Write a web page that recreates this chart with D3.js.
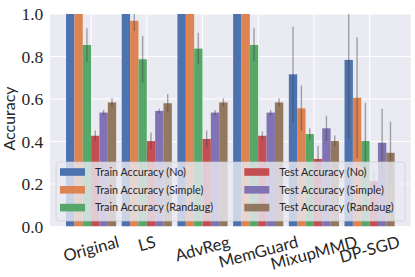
<!DOCTYPE html>
<html lang="en">
<head>
<meta charset="utf-8">
<title>Accuracy bars</title>
<script src="https://d3js.org/d3.v7.min.js"></script>
<style>
  body { margin: 0; background: #fff; }
  svg { display: block; }
</style>
</head>
<body>
<div class="chart"></div>
<script>
// categories and series
var categories = ["Original", "LS", "AdvReg", "MemGuard", "MixupMMD", "DP-SGD"];
var seriesNames = ["Train Accuracy (No)", "Train Accuracy (Simple)", "Train Accuracy (Randaug)",
                   "Test Accuracy (No)", "Test Accuracy (Simple)", "Test Accuracy (Randaug)"];
var colors = ["#4c72b0", "#dd8452", "#55a868", "#c44e52", "#8172b3", "#937860"];

// mean values
var trainNo      = [1.0, 1.0, 1.0, 1.0, 0.716, 0.784];
var trainSimple  = [1.0, 0.968, 1.0, 1.0, 0.556, 0.606];
var trainRandaug = [0.854, 0.787, 0.837, 0.854, 0.435, 0.402];
var testNo       = [0.427, 0.402, 0.412, 0.427, 0.318, 0.214];
var testSimple   = [0.536, 0.544, 0.536, 0.536, 0.462, 0.394];
var testRandaug  = [0.584, 0.580, 0.584, 0.584, 0.402, 0.347];

// error bar half widths
var trainNoErr      = [0, 0, 0, 0, 0.224, 0.37];
var trainSimpleErr  = [0, 0.048, 0, 0, 0.107, 0.285];
var trainRandaugErr = [0.079, 0.11, 0.075, 0.079, 0.026, 0.18];
var testNoErr       = [0.025, 0.04, 0.04, 0.02, 0.061, 0.05];
var testSimpleErr   = [0.012, 0.01, 0.012, 0.012, 0.059, 0.16];
var testRandaugErr  = [0.02, 0.043, 0.02, 0.02, 0.026, 0.146];

var yTicks = [0, 0.2, 0.4, 0.6, 0.8, 1.0];

var allValues = [trainNo, trainSimple, trainRandaug, testNo, testSimple, testRandaug];
var allErrors = [trainNoErr, trainSimpleErr, trainRandaugErr, testNoErr, testSimpleErr, testRandaugErr];

var bars = [];
categories.forEach((c, i) => {
  seriesNames.forEach((s, j) => {
    bars.push({cat: c, series: s, value: allValues[j][i], err: allErrors[j][i]});
  });
});

const width = 415, height = 277;
const margin = {top: 14, right: 4.3, bottom: 50.5, left: 50};
const x0 = margin.left, x1 = width - margin.right;
const y0 = height - margin.bottom, y1 = margin.top;
const sans = 'Lato, "DejaVu Sans", sans-serif';

const xScale = d3.scaleBand()
  .domain(categories)
  .range([x0, x1])
  .paddingInner(0.1)
  .paddingOuter(0.288);
const xSub = d3.scaleBand()
  .domain(seriesNames)
  .range([0, xScale.bandwidth()]);
const yScale = d3.scaleLinear()
  .domain([0, 1])
  .range([y0, y1]);
const colorScale = d3.scaleOrdinal().domain(seriesNames).range(colors);

var svg = d3.select('.chart')
  .append('svg')
  .attr('width', width)
  .attr('height', height);

svg.append('defs').append('clipPath')
  .attr('id', 'plotclip')
  .append('rect')
  .attr('x', x0).attr('y', y1)
  .attr('width', x1 - x0).attr('height', y0 - y1);

// background and grid
svg.append('rect')
  .attr('x', x0).attr('y', y1)
  .attr('width', x1 - x0).attr('height', y0 - y1)
  .attr('fill', '#eaeaf2');

svg.append('g').selectAll('line')
  .data(yTicks)
  .join('line')
  .attr('x1', x0).attr('x2', x1)
  .attr('y1', d => yScale(d)).attr('y2', d => yScale(d))
  .attr('stroke', '#fff').attr('stroke-width', 1.1);

svg.append('g').selectAll('line')
  .data(categories)
  .join('line')
  .attr('x1', d => xScale(d) + xScale.bandwidth() / 2)
  .attr('x2', d => xScale(d) + xScale.bandwidth() / 2)
  .attr('y1', y1).attr('y2', y0)
  .attr('stroke', '#fff').attr('stroke-width', 1.1);

// bars
var plot = svg.append('g').attr('clip-path', 'url(#plotclip)');
plot.selectAll('rect.bar')
  .data(bars)
  .join('rect')
  .attr('class', 'bar')
  .attr('x', d => xScale(d.cat) + xSub(d.series))
  .attr('width', xSub.bandwidth())
  .attr('y', d => yScale(d.value))
  .attr('height', d => yScale(0) - yScale(d.value))
  .attr('fill', d => colorScale(d.series));

// error bars
plot.selectAll('line.err')
  .data(bars.filter(d => d.err > 0))
  .join('line')
  .attr('class', 'err')
  .attr('x1', d => xScale(d.cat) + xSub(d.series) + xSub.bandwidth() / 2)
  .attr('x2', d => xScale(d.cat) + xSub(d.series) + xSub.bandwidth() / 2)
  .attr('y1', d => yScale(Math.max(0, d.value - d.err)))
  .attr('y2', d => yScale(d.value + d.err))
  .attr('stroke', '#424242')
  .attr('stroke-opacity', 0.45)
  .attr('stroke-width', 1.4);

// y axis
const yAxis = d3.axisLeft(yScale)
  .tickValues(yTicks)
  .tickSize(0)
  .tickPadding(6.7)
  .tickFormat(d3.format('.1f'));
var yAxisDisplay = svg.append('g')
  .attr('transform', `translate(${x0},0)`)
  .call(yAxis);
yAxisDisplay.select('.domain').remove();
yAxisDisplay.selectAll('text')
  .attr('font-family', '"Liberation Serif", serif')
  .attr('font-size', 17.5)
  .attr('fill', '#262626');

svg.append('text')
  .attr('transform', 'translate(15,118.5) rotate(-90)')
  .attr('text-anchor', 'middle')
  .attr('font-family', sans)
  .attr('font-size', 16)
  .attr('fill', '#262626')
  .text('Accuracy');

// x axis, rotated labels
const xAxis = d3.axisBottom(xScale).tickSize(0);
var xAxisDisplay = svg.append('g')
  .attr('transform', `translate(0,${y0})`)
  .call(xAxis);
xAxisDisplay.select('.domain').remove();
xAxisDisplay.selectAll('.tick').each(function() {
  var tick = d3.select(this);
  var t = tick.select('text')
    .attr('y', 0).attr('dy', null)
    .attr('font-family', sans)
    .attr('font-size', 16.5)
    .attr('fill', '#262626')
    .attr('text-anchor', 'middle')
    .attr('transform', 'rotate(-15)');
  var bb = this.getBBox();
  var cx = bb.x + bb.width / 2;
  t.attr('transform', `translate(${-cx},${5 - bb.y}) rotate(-15)`);
});

// legend
var legend = svg.append('g');
legend.append('rect')
  .attr('x', 56).attr('y', 162)
  .attr('width', 349).attr('height', 59)
  .attr('rx', 3)
  .attr('fill', '#eaeaf2').attr('fill-opacity', 0.8)
  .attr('stroke', '#cccccc').attr('stroke-opacity', 0.8)
  .attr('stroke-width', 0.8);

var items = legend.selectAll('g.item')
  .data(seriesNames)
  .join('g')
  .attr('class', 'item')
  .attr('transform', (d, i) => `translate(${i < 3 ? 60 : 244.3},${172 + 17.8 * (i % 3)})`);
items.append('rect')
  .attr('x', 0).attr('y', -3.8)
  .attr('width', 25).attr('height', 7.6)
  .attr('fill', d => colorScale(d));
items.append('text')
  .attr('x', 35).attr('y', 3.8)
  .attr('font-family', sans)
  .attr('font-size', 10.8)
  .attr('fill', '#262626')
  .text(d => d);
</script>
</body>
</html>
